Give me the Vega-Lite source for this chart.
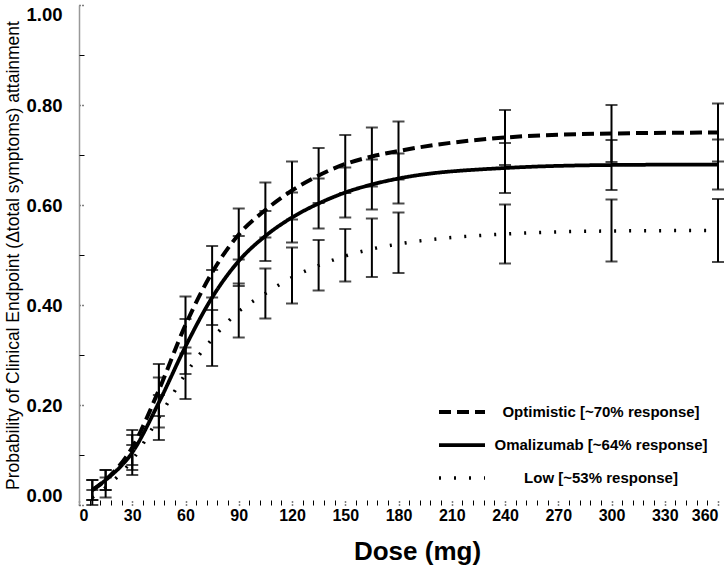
{
  "$schema": "https://vega.github.io/schema/vega-lite/v6.json",
  "width": 639,
  "height": 500,
  "autosize": {"type": "none"},
  "padding": {"left": 79, "top": 5, "right": 10, "bottom": 62},
  "background": "white",
  "config": {"view": {"stroke": null}, "font": "Liberation Sans"},
  "data": {"values": [
    {"dose": 7.5, "scenario": "Optimistic [~70% response]", "p": 0.03, "lo": 0.01, "hi": 0.05},
    {"dose": 15, "scenario": "Optimistic [~70% response]", "p": 0.05, "lo": 0.03, "hi": 0.07},
    {"dose": 30, "scenario": "Optimistic [~70% response]", "p": 0.115, "lo": 0.08, "hi": 0.15},
    {"dose": 45, "scenario": "Optimistic [~70% response]", "p": 0.23, "lo": 0.178, "hi": 0.282},
    {"dose": 60, "scenario": "Optimistic [~70% response]", "p": 0.36, "lo": 0.303, "hi": 0.417},
    {"dose": 75, "scenario": "Optimistic [~70% response]", "p": 0.465, "lo": 0.415, "hi": 0.518},
    {"dose": 90, "scenario": "Optimistic [~70% response]", "p": 0.541, "lo": 0.491, "hi": 0.593},
    {"dose": 105, "scenario": "Optimistic [~70% response]", "p": 0.59, "lo": 0.535, "hi": 0.645},
    {"dose": 120, "scenario": "Optimistic [~70% response]", "p": 0.629, "lo": 0.571, "hi": 0.687},
    {"dose": 135, "scenario": "Optimistic [~70% response]", "p": 0.659, "lo": 0.604, "hi": 0.714},
    {"dose": 150, "scenario": "Optimistic [~70% response]", "p": 0.682, "lo": 0.624, "hi": 0.74},
    {"dose": 165, "scenario": "Optimistic [~70% response]", "p": 0.697, "lo": 0.637, "hi": 0.755},
    {"dose": 180, "scenario": "Optimistic [~70% response]", "p": 0.708, "lo": 0.651, "hi": 0.767},
    {"dose": 240, "scenario": "Optimistic [~70% response]", "p": 0.735, "lo": 0.68, "hi": 0.79},
    {"dose": 300, "scenario": "Optimistic [~70% response]", "p": 0.743, "lo": 0.686, "hi": 0.8},
    {"dose": 360, "scenario": "Optimistic [~70% response]", "p": 0.745, "lo": 0.687, "hi": 0.803},
    {"dose": 7.5, "scenario": "Omalizumab [~64% response]", "p": 0.03, "lo": 0.01, "hi": 0.05},
    {"dose": 15, "scenario": "Omalizumab [~64% response]", "p": 0.05, "lo": 0.03, "hi": 0.07},
    {"dose": 30, "scenario": "Omalizumab [~64% response]", "p": 0.105, "lo": 0.07, "hi": 0.14},
    {"dose": 45, "scenario": "Omalizumab [~64% response]", "p": 0.205, "lo": 0.155, "hi": 0.255},
    {"dose": 60, "scenario": "Omalizumab [~64% response]", "p": 0.317, "lo": 0.262, "hi": 0.372},
    {"dose": 75, "scenario": "Omalizumab [~64% response]", "p": 0.415, "lo": 0.36, "hi": 0.47},
    {"dose": 90, "scenario": "Omalizumab [~64% response]", "p": 0.488, "lo": 0.438, "hi": 0.538},
    {"dose": 105, "scenario": "Omalizumab [~64% response]", "p": 0.538, "lo": 0.488, "hi": 0.588},
    {"dose": 120, "scenario": "Omalizumab [~64% response]", "p": 0.575, "lo": 0.525, "hi": 0.625},
    {"dose": 135, "scenario": "Omalizumab [~64% response]", "p": 0.603, "lo": 0.553, "hi": 0.653},
    {"dose": 150, "scenario": "Omalizumab [~64% response]", "p": 0.625, "lo": 0.575, "hi": 0.675},
    {"dose": 165, "scenario": "Omalizumab [~64% response]", "p": 0.641, "lo": 0.591, "hi": 0.691},
    {"dose": 180, "scenario": "Omalizumab [~64% response]", "p": 0.653, "lo": 0.603, "hi": 0.703},
    {"dose": 240, "scenario": "Omalizumab [~64% response]", "p": 0.674, "lo": 0.624, "hi": 0.724},
    {"dose": 300, "scenario": "Omalizumab [~64% response]", "p": 0.68, "lo": 0.63, "hi": 0.73},
    {"dose": 360, "scenario": "Omalizumab [~64% response]", "p": 0.681, "lo": 0.631, "hi": 0.731},
    {"dose": 7.5, "scenario": "Low [~53% response]", "p": 0.015, "lo": 0.0, "hi": 0.03},
    {"dose": 15, "scenario": "Low [~53% response]", "p": 0.035, "lo": 0.015, "hi": 0.055},
    {"dose": 30, "scenario": "Low [~53% response]", "p": 0.09, "lo": 0.06, "hi": 0.12},
    {"dose": 45, "scenario": "Low [~53% response]", "p": 0.175, "lo": 0.13, "hi": 0.22},
    {"dose": 60, "scenario": "Low [~53% response]", "p": 0.262, "lo": 0.212, "hi": 0.315},
    {"dose": 75, "scenario": "Low [~53% response]", "p": 0.332, "lo": 0.278, "hi": 0.39},
    {"dose": 90, "scenario": "Low [~53% response]", "p": 0.387, "lo": 0.335, "hi": 0.443},
    {"dose": 105, "scenario": "Low [~53% response]", "p": 0.423, "lo": 0.373, "hi": 0.473},
    {"dose": 120, "scenario": "Low [~53% response]", "p": 0.455, "lo": 0.403, "hi": 0.515},
    {"dose": 135, "scenario": "Low [~53% response]", "p": 0.479, "lo": 0.429, "hi": 0.53},
    {"dose": 150, "scenario": "Low [~53% response]", "p": 0.498, "lo": 0.447, "hi": 0.552},
    {"dose": 165, "scenario": "Low [~53% response]", "p": 0.512, "lo": 0.456, "hi": 0.573},
    {"dose": 180, "scenario": "Low [~53% response]", "p": 0.522, "lo": 0.464, "hi": 0.585},
    {"dose": 240, "scenario": "Low [~53% response]", "p": 0.542, "lo": 0.483, "hi": 0.601},
    {"dose": 300, "scenario": "Low [~53% response]", "p": 0.548, "lo": 0.487, "hi": 0.611},
    {"dose": 360, "scenario": "Low [~53% response]", "p": 0.549, "lo": 0.486, "hi": 0.612}
  ]},
  "layer": [
    {
      "mark": {"type": "rule", "color": "black", "strokeWidth": 2},
      "encoding": {
        "x": {"field": "dose", "type": "quantitative", "scale": {"domain": [0, 360], "nice": false, "zero": false},
          "axis": {"orient": "bottom", "values": [0, 30, 60, 90, 120, 150, 180, 210, 240, 270, 300, 330, 360], "domain": false,
            "tickSize": -6, "tickColor": "black", "tickDash": [1, 2], "tickWidth": 1.5,
            "labelFont": "Liberation Sans", "labelFontSize": 16, "labelFontWeight": "bold", "labelColor": "black", "labelPadding": 8, "labelFlush": true,
            "title": "Dose (mg)", "titleFont": "Liberation Sans", "titleFontSize": 26, "titleFontWeight": "bold", "titleColor": "black",
            "titleX": 338, "titleY": 54, "titleAlign": "center", "titleBaseline": "alphabetic", "grid": false}},
        "y": {"field": "lo", "type": "quantitative", "scale": {"domain": [0, 1], "nice": false},
          "axis": {"orient": "left", "values": [0, 0.2, 0.4, 0.6, 0.8, 1.0], "format": ".2f", "domainColor": "#999999", "domainWidth": 1.5,
            "tickSize": -6, "tickColor": "black", "tickDash": [1, 2], "tickWidth": 1.5,
            "labelFont": "Liberation Sans", "labelFontSize": 18.5, "labelFontWeight": "bold", "labelColor": "black", "labelPadding": 23, "labelFlush": true,
            "title": "Probability of Clinical Endpoint (Δtotal symptoms) attainment", "titleFont": "Liberation Sans", "titleFontSize": 17.5, "titleFontWeight": "normal", "titleColor": "black", "titlePadding": 3, "grid": false}},
        "y2": {"field": "hi"}
      }
    },
    {
      "mark": {"type": "tick", "orient": "horizontal", "color": "black", "thickness": 2, "size": 12},
      "encoding": {
        "x": {"field": "dose", "type": "quantitative",
          "axis": {"orient": "bottom", "values": [6, 12, 18, 24, 36, 42, 48, 54, 66, 72, 78, 84, 96, 102, 108, 114, 126, 132, 138, 144, 156, 162, 168, 174, 186, 192, 198, 204, 216, 222, 228, 234, 246, 252, 258, 264, 276, 282, 288, 294, 306, 312, 318, 324, 336, 342, 348, 354],
            "domain": false, "labels": false, "title": null, "tickSize": -5, "tickColor": "black", "tickWidth": 1, "grid": false}},
        "y": {"field": "lo", "type": "quantitative",
          "axis": {"orient": "left", "values": [0.1, 0.3, 0.5, 0.7, 0.9], "domain": false, "labels": false, "title": null, "tickSize": -5, "tickColor": "black", "tickWidth": 1, "grid": false}}
      }
    },
    {
      "mark": {"type": "tick", "orient": "horizontal", "color": "black", "thickness": 2, "size": 12},
      "encoding": {
        "x": {"field": "dose", "type": "quantitative", "axis": null},
        "y": {"field": "hi", "type": "quantitative", "axis": null}
      }
    },
    {
      "mark": {"type": "line", "color": "black", "interpolate": "monotone"},
      "encoding": {
        "x": {"field": "dose", "type": "quantitative", "axis": null},
        "y": {"field": "p", "type": "quantitative", "axis": null},
        "detail": {"field": "scenario"},
        "strokeDash": {"field": "scenario", "type": "nominal",
          "scale": {"domain": ["Optimistic [~70% response]", "Omalizumab [~64% response]", "Low [~53% response]"], "range": [[12, 6], [1, 0], [2, 13]]},
          "legend": {"orient": "none", "legendX": 358, "legendY": 397, "title": null, "symbolType": "stroke", "symbolSize": 2116,
            "symbolStrokeColor": "black", "symbolStrokeWidth": 3, "clipHeight": 20, "rowPadding": 13,
            "labelFont": "Liberation Sans", "labelFontSize": 15, "labelFontWeight": "bold", "labelColor": "black", "labelAlign": "center", "labelOffset": 114, "labelLimit": 400}},
        "strokeWidth": {"field": "scenario", "type": "nominal",
          "scale": {"domain": ["Optimistic [~70% response]", "Omalizumab [~64% response]", "Low [~53% response]"], "range": [4, 3.5, 2]},
          "legend": null}
      }
    }
  ],
  "resolve": {"axis": {"x": "independent", "y": "independent"}}
}
